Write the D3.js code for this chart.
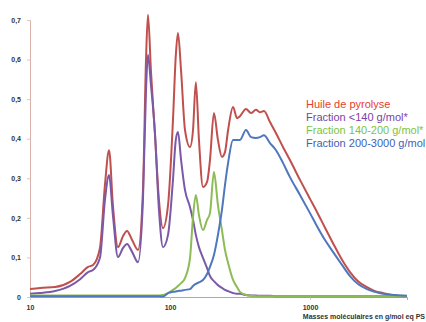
<!DOCTYPE html>
<html><head><meta charset="utf-8">
<script src="https://cdn.jsdelivr.net/npm/d3@7"></script>
<style>body{margin:0;background:#fff}svg{display:block}</style>
</head><body>
<svg id="c" width="426" height="322"></svg>
<script>
// Molecular masses (g/mol eq PS)
const masses = [10,11.8,15.1,19.3,22.8,26,28.2,31.6,34.3,36.7,39.1,42.5,46.2,49.3,53.6,59.1,64.1,67.4,69.6,73.1,78.1,83.4,89.1,96.8,105,110,114,120,128,139,146,153,161,172,184,193,206,220,235,247,260,282,301,316,349,379,411,439,469,518,572,641,719,848,1000,1122,1280,1460,1693,1931,2203,2553,2913,3320,4048,4930];
const huile = [0.020,0.023,0.025,0.038,0.058,0.076,0.081,0.124,0.283,0.371,0.232,0.126,0.154,0.167,0.144,0.119,0.270,0.600,0.713,0.571,0.410,0.245,0.174,0.232,0.447,0.610,0.667,0.571,0.422,0.379,0.422,0.543,0.397,0.278,0.291,0.346,0.465,0.397,0.354,0.366,0.422,0.480,0.452,0.457,0.475,0.465,0.473,0.467,0.470,0.442,0.414,0.379,0.346,0.296,0.248,0.215,0.175,0.136,0.094,0.063,0.040,0.025,0.015,0.010,0.004,0.002];
const frac140 = [0.008,0.010,0.015,0.028,0.045,0.063,0.068,0.099,0.245,0.308,0.207,0.101,0.124,0.134,0.114,0.088,0.245,0.523,0.612,0.536,0.414,0.220,0.126,0.157,0.296,0.397,0.417,0.346,0.270,0.227,0.195,0.157,0.126,0.099,0.073,0.053,0.040,0.030,0.023,0.018,0.015,0.010,0.008,0.008,0.005,0.004,0.004,0.003,0.003,0.003,0.002,0.002,0.002,0.002,0.002,0.002,0.002,0.002,0.002,0.002,0.002,0.002,0.002,0.002,0.002,0.002];
const frac140_200 = [0.004,0.004,0.004,0.004,0.004,0.004,0.004,0.004,0.004,0.004,0.004,0.004,0.004,0.004,0.004,0.004,0.004,0.004,0.004,0.004,0.004,0.004,0.005,0.010,0.018,0.023,0.028,0.035,0.048,0.099,0.202,0.258,0.207,0.169,0.195,0.212,0.316,0.232,0.169,0.119,0.086,0.043,0.025,0.013,0.005,0.003,0.002,0.002,0.002,0.002,0.002,0.002,0.002,0.002,0.002,0.002,0.002,0.002,0.002,0.002,0.002,0.002,0.002,0.002,0.002,0.002];
const frac200_3000 = [0.002,0.002,0.002,0.002,0.002,0.002,0.002,0.002,0.002,0.002,0.002,0.002,0.002,0.002,0.002,0.002,0.002,0.002,0.002,0.002,0.002,0.002,0.001,0.010,0.013,0.014,0.015,0.016,0.018,0.020,0.028,0.033,0.037,0.043,0.058,0.076,0.106,0.157,0.220,0.283,0.339,0.397,0.397,0.397,0.422,0.404,0.402,0.404,0.409,0.389,0.371,0.339,0.303,0.258,0.212,0.179,0.144,0.114,0.081,0.053,0.033,0.020,0.013,0.008,0.005,0.003];

const seriesNames = ["Huile de pyrolyse","Fraction <140 g/mol*","Fraction 140-200 g/mol*","Fraction 200-3000 g/mol"];
const lineColors = ["#c0504d","#7a5aa8","#8dbb55","#4f77bd"];
const textColors = ["#e8402a","#7a3fa6","#7cc443","#3f5fb5"];
const yTicks = [0,0.1,0.2,0.3,0.4,0.5,0.6,0.7];
const yTickLabels = ["0","0,1","0,2","0,3","0,4","0,5","0,6","0,7"];
const xTicks = [10,100,1000];
const xTickLabels = ["10","100","1000"];
const xTitle = "Masses moléculaires en g/mol eq PS";

const svg = d3.select("#c");
const x = d3.scaleLog().domain([10,4930]).range([30,407]);
const y = d3.scaleLinear().domain([0,0.7]).range([297,20]);

// y axis
const ya = svg.append("g").attr("transform","translate(30,0)")
  .call(d3.axisLeft(y).tickValues(yTicks).tickSize(3).tickFormat((d,i)=>yTickLabels[i]));
ya.select(".domain").attr("stroke","#d9b3ab");
ya.selectAll(".tick line").attr("stroke","#d9c8c4");
ya.selectAll("text").attr("font-family","Liberation Sans, Arial, sans-serif")
  .attr("font-size",7).attr("font-weight","bold").attr("fill","#333").attr("x",-9);

// x axis
const xa = svg.append("g").attr("transform","translate(0,297)")
  .call(d3.axisBottom(x).tickValues(xTicks).tickSize(3).tickFormat((d,i)=>xTickLabels[i]));
xa.select(".domain").attr("stroke","#aaa");
xa.selectAll(".tick line").attr("stroke","#ccc");
xa.selectAll("text").attr("font-family","Liberation Sans, Arial, sans-serif")
  .attr("font-size",7).attr("font-weight","bold").attr("fill","#333").attr("y",8);

svg.append("text").attr("x",425).attr("y",319).attr("text-anchor","end")
  .attr("font-family","Liberation Sans, Arial, sans-serif").attr("font-size",7)
  .attr("font-weight","bold").attr("fill","#333").text(xTitle);

const allSeries = [huile, frac140, frac140_200, frac200_3000];
const line = d3.line().x(d=>x(d[0])).y(d=>y(d[1])).curve(d3.curveMonotoneX);
allSeries.forEach((s,i)=>{
  svg.append("path").datum(masses.map((m,j)=>[m,s[j]]))
    .attr("d",line).attr("fill","none").attr("stroke",lineColors[i])
    .attr("stroke-width",2).attr("stroke-linejoin","round");
});

// legend
seriesNames.forEach((n,i)=>{
  svg.append("text").attr("x",306).attr("y",108+i*13)
    .attr("font-family","Liberation Sans, Arial, sans-serif").attr("font-size",11)
    .attr("fill",textColors[i]).text(n);
});
</script>
</body></html>
